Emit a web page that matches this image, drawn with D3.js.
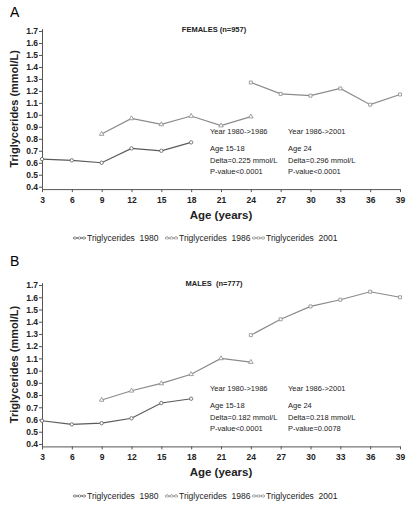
<!DOCTYPE html>
<html><head><meta charset="utf-8">
<script src="https://cdn.jsdelivr.net/npm/d3@7"></script>
<style>
body{margin:0;background:#fff;}
text{font-family:"Liberation Sans",Arial,sans-serif;}
</style></head>
<body><svg id="c" width="416" height="511"></svg>
<script>
const xTicks = [3,6,9,12,15,18,21,24,27,30,33,36,39];
const yTicks = [0.4,0.5,0.6,0.7,0.8,0.9,1.0,1.1,1.2,1.3,1.4,1.5,1.6,1.7];
const seriesNames = ["Triglycerides  1980","Triglycerides  1986","Triglycerides  2001"];

const ages1980 = [3,6,9,12,15,18];
const ages1986 = [9,12,15,18,21,24];
const ages2001 = [24,27,30,33,36,39];

const femaleTG1980 = [0.63,0.62,0.60,0.72,0.70,0.77];
const femaleTG1986 = [0.84,0.97,0.92,0.99,0.91,0.985];
const femaleTG2001 = [1.27,1.175,1.16,1.22,1.085,1.17];

const maleTG1980 = [0.59,0.56,0.57,0.61,0.735,0.77];
const maleTG1986 = [0.76,0.835,0.895,0.97,1.10,1.07];
const maleTG2001 = [1.29,1.42,1.525,1.58,1.645,1.60];

const femaleTitle = "FEMALES (n=957)";
const maleTitle = "MALES  (n=777)";
const femaleNotes = [["Year 1980->1986","Age 15-18","Delta=0.225 mmol/L","P-value<0.0001"],
                     ["Year 1986->2001","Age 24","Delta=0.296 mmol/L","P-value<0.0001"]];
const maleNotes = [["Year 1980->1986","Age 15-18","Delta=0.182 mmol/L","P-value<0.0001"],
                   ["Year 1986->2001","Age 24","Delta=0.218 mmol/L","P-value=0.0078"]];

const svg = d3.select("#c");
const colors = ["#5a5a5a","#8a8a8a","#8a8a8a"];
const shapes = [d3.symbolCircle, d3.symbolTriangle, d3.symbolSquare];

function panel(cfg){
  const g = svg.append("g");
  const x = d3.scaleLinear().domain([3,39]).range([42,400]);
  const y = d3.scaleLinear().domain([0.38,1.72]).range([cfg.y0, cfg.y1]);

  g.append("text").attr("x",10).attr("y",cfg.letterY).attr("font-size",14).text(cfg.letter);

  const yAx = g.append("g").attr("transform","translate(42,0)")
    .call(d3.axisLeft(y).tickValues(yTicks).tickFormat(d3.format(".1f")).tickSize(3).tickSizeOuter(0));
  const xAx = g.append("g").attr("transform",`translate(0,${cfg.y0})`)
    .call(d3.axisBottom(x).tickValues(xTicks).tickSize(3).tickSizeOuter(0));
  [yAx,xAx].forEach(a=>{
    a.select(".domain").attr("stroke","#555");
    a.selectAll(".tick line").attr("stroke","#555");
    a.selectAll("text").attr("font-size",8.5).attr("font-weight","bold").attr("fill","#222")
      .attr("font-family","Liberation Sans, Arial, sans-serif");
  });
  yAx.selectAll("text").attr("x",-4);
  xAx.selectAll("text").attr("y",8);

  g.append("text").attr("transform",`translate(18,${(cfg.y0+cfg.y1)/2}) rotate(-90)`)
    .attr("text-anchor","middle").attr("font-size",11).attr("font-weight","bold").attr("fill","#222")
    .text("Triglycerides (mmol/L)");
  g.append("text").attr("x",221).attr("y",cfg.y0+30).attr("text-anchor","middle")
    .attr("font-size",11.5).attr("font-weight","bold").attr("fill","#222").text("Age (years)");

  g.append("text").attr("x",214).attr("y",cfg.y1+3).attr("text-anchor","middle")
    .attr("font-size",7.5).attr("font-weight","bold").attr("fill","#222")
    .style("white-space","pre").text(cfg.title);

  const sets = [[ages1980,cfg.d[0]],[ages1986,cfg.d[1]],[ages2001,cfg.d[2]]];
  const line = d3.line().x(d=>x(d[0])).y(d=>y(d[1]));
  sets.forEach((s,i)=>{
    const pts = s[0].map((a,j)=>[a,s[1][j]]);
    g.append("path").attr("d",line(pts)).attr("fill","none").attr("stroke",colors[i]).attr("stroke-width",1.2);
    g.selectAll(null).data(pts).enter().append("path")
      .attr("transform",d=>`translate(${x(d[0])},${y(d[1])})`)
      .attr("d",d3.symbol().type(shapes[i]).size(9))
      .attr("fill","#fff").attr("stroke",colors[i]).attr("stroke-width",0.8);
  });

  const nx = [210,288];
  cfg.notes.forEach((col,ci)=>{
    col.forEach((t,ri)=>{
      const yy = cfg.noteY + (ri===0?0:ri*11.5+5.5);
      g.append("text").attr("x",nx[ci]).attr("y",yy).attr("font-size",7.5).attr("fill","#222").text(t);
    });
  });

  const lx = [73,165,252];
  seriesNames.forEach((n,i)=>{
    const ly = cfg.legY;
    g.append("line").attr("x1",lx[i]).attr("x2",lx[i]+13).attr("y1",ly-3).attr("y2",ly-3)
      .attr("stroke",colors[i]).attr("stroke-width",1.2);
    [lx[i]+2,lx[i]+6.5,lx[i]+11].forEach(px=>{
      g.append("path").attr("transform",`translate(${px},${ly-3})`)
        .attr("d",d3.symbol().type(shapes[i]).size(5)).attr("fill","#fff").attr("stroke",colors[i]).attr("stroke-width",0.6);
    });
    g.append("text").attr("x",lx[i]+14).attr("y",ly).attr("font-size",8.5).attr("fill","#222")
      .style("white-space","pre").text(n);
  });
}

panel({letter:"A",letterY:17,y0:189.1,y1:28.6,title:femaleTitle,d:[femaleTG1980,femaleTG1986,femaleTG2001],
       notes:femaleNotes,noteY:134,legY:241});
panel({letter:"B",letterY:266,y0:446.4,y1:282.6,title:maleTitle,d:[maleTG1980,maleTG1986,maleTG2001],
       notes:maleNotes,noteY:391,legY:499});
</script></body></html>
